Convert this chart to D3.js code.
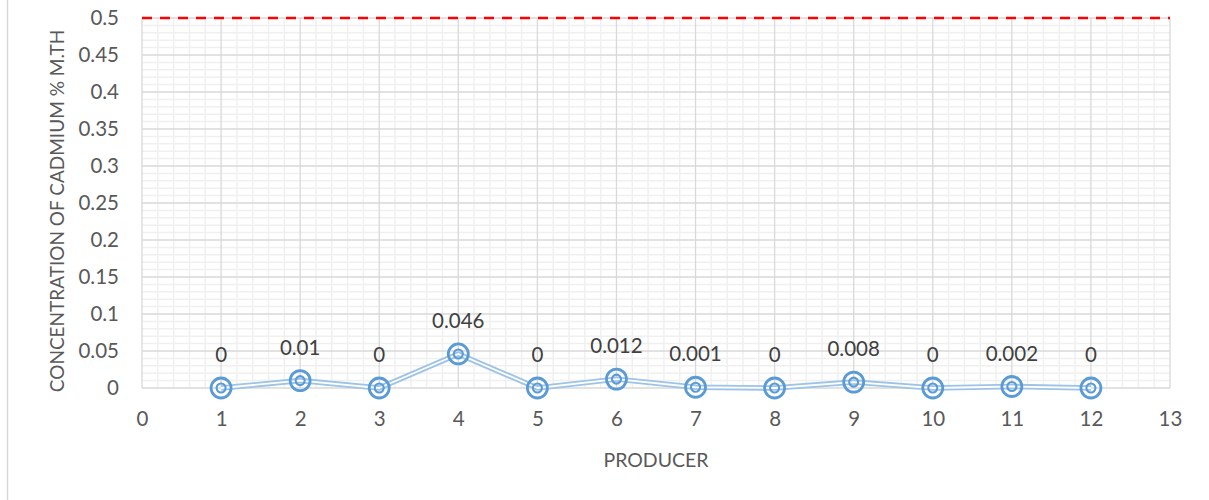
<!DOCTYPE html>
<html>
<head>
<meta charset="utf-8">
<script src="https://cdn.jsdelivr.net/npm/d3@7"></script>
<style>
  html, body { margin: 0; padding: 0; background: #fff; }
  svg { display: block; }
  text { font-family: Lato, "Open Sans", "Liberation Sans", sans-serif; }
</style>
</head>
<body>
<svg id="chart" width="1209" height="500"></svg>
<script>
// Cadmium concentration per producer
const producers = [1, 2, 3, 4, 5, 6, 7, 8, 9, 10, 11, 12];
const cadmium = [0, 0.01, 0, 0.046, 0, 0.012, 0.001, 0, 0.008, 0, 0.002, 0];
const limitValue = 0.5;
const xTicks = d3.range(0, 14);
const yTicks = [0, 0.05, 0.1, 0.15, 0.2, 0.25, 0.3, 0.35, 0.4, 0.45, 0.5];

const svg = d3.select("#chart");
const plot = { left: 142, right: 1170, top: 18, bottom: 388 };

const x = d3.scaleLinear().domain([0, 13]).range([plot.left, plot.right]);
const y = d3.scaleLinear().domain([0, 0.5]).range([plot.bottom, plot.top]);

// chart frame edge on the left
svg.append("line")
  .attr("x1", 7.5).attr("x2", 7.5).attr("y1", 0).attr("y2", 500)
  .attr("stroke", "#d9d9d9").attr("stroke-width", 1.5);

// minor gridlines
const minorX = d3.range(0, 13 * 5 + 1).map(i => i / 5).filter(v => Math.abs(v - Math.round(v)) > 1e-6);
const minorY = d3.range(0, 51).map(i => i / 100).filter(v => Math.abs(v * 20 - Math.round(v * 20)) > 1e-6);
const grid = svg.append("g");
grid.selectAll(".mx").data(minorX).join("line")
  .attr("x1", d => x(d)).attr("x2", d => x(d))
  .attr("y1", plot.top).attr("y2", plot.bottom)
  .attr("stroke", "#f0f0f0").attr("stroke-width", 1.5);
grid.selectAll(".my").data(minorY).join("line")
  .attr("x1", plot.left).attr("x2", plot.right)
  .attr("y1", d => y(d)).attr("y2", d => y(d))
  .attr("stroke", "#f0f0f0").attr("stroke-width", 1.5);

// major gridlines
grid.selectAll(".Mx").data(xTicks).join("line")
  .attr("x1", d => x(d)).attr("x2", d => x(d))
  .attr("y1", plot.top).attr("y2", plot.bottom)
  .attr("stroke", "#d9d9d9").attr("stroke-width", 1.3);
grid.selectAll(".My").data(yTicks).join("line")
  .attr("x1", plot.left).attr("x2", plot.right)
  .attr("y1", d => y(d)).attr("y2", d => y(d))
  .attr("stroke", "#d9d9d9").attr("stroke-width", 1.3);

// axes (labels only)
const yAxis = svg.append("g")
  .attr("transform", `translate(${plot.left},0)`)
  .call(d3.axisLeft(y).tickValues(yTicks).tickSize(0).tickPadding(23).tickFormat(d => d3.format("")(+d.toFixed(2))));
yAxis.select(".domain").remove();
yAxis.selectAll("text").attr("fill", "#595959").style("font-size", "20.5px");

const xAxis = svg.append("g")
  .attr("transform", `translate(0,${plot.bottom})`)
  .call(d3.axisBottom(x).tickValues(xTicks).tickSize(0).tickPadding(23).tickFormat(d3.format("d")));
xAxis.select(".domain").remove();
xAxis.selectAll("text").attr("fill", "#595959").style("font-size", "20.5px");

// axis titles
svg.append("text")
  .attr("transform", `translate(64,${(plot.top + plot.bottom) / 2 + 8}) rotate(-90)`)
  .attr("text-anchor", "middle")
  .attr("fill", "#595959").style("font-size", "19px")
  .text("CONCENTRATION OF CADMIUM % M.TH");
svg.append("text")
  .attr("x", (plot.left + plot.right) / 2).attr("y", 467)
  .attr("text-anchor", "middle")
  .attr("fill", "#595959").style("font-size", "19.5px")
  .text("PRODUCER");

// limit line
svg.append("line")
  .attr("x1", plot.left).attr("x2", plot.right)
  .attr("y1", y(limitValue)).attr("y2", y(limitValue))
  .attr("stroke", "#ff0000").attr("stroke-width", 2.5)
  .attr("stroke-dasharray", "10,8");

// series: double line
const pts = producers.map((p, i) => [x(p), y(cadmium[i])]);
const line = d3.line();
svg.append("path").attr("d", line(pts))
  .attr("fill", "none").attr("stroke", "#9dc3e6").attr("stroke-width", 5.5)
  .attr("stroke-linejoin", "round");
svg.append("path").attr("d", line(pts))
  .attr("fill", "none").attr("stroke", "#ffffff").attr("stroke-width", 1.8)
  .attr("stroke-linejoin", "round");

// bullseye markers
const markers = svg.append("g").selectAll("g").data(pts).join("g")
  .attr("transform", d => `translate(${d[0]},${d[1]})`);
markers.append("circle").attr("r", 10)
  .attr("fill", "none").attr("stroke", "#5b9bd5").attr("stroke-width", 2.8);
markers.append("circle").attr("r", 4.5)
  .attr("fill", "none").attr("stroke", "#5b9bd5").attr("stroke-width", 2.1);

// value labels
svg.append("g").selectAll("text").data(producers).join("text")
  .attr("x", d => x(d))
  .attr("y", (d, i) => y(cadmium[i]) - 26)
  .attr("text-anchor", "middle")
  .attr("fill", "#404040").style("font-size", "20.5px")
  .text((d, i) => cadmium[i]);
</script>
</body>
</html>
